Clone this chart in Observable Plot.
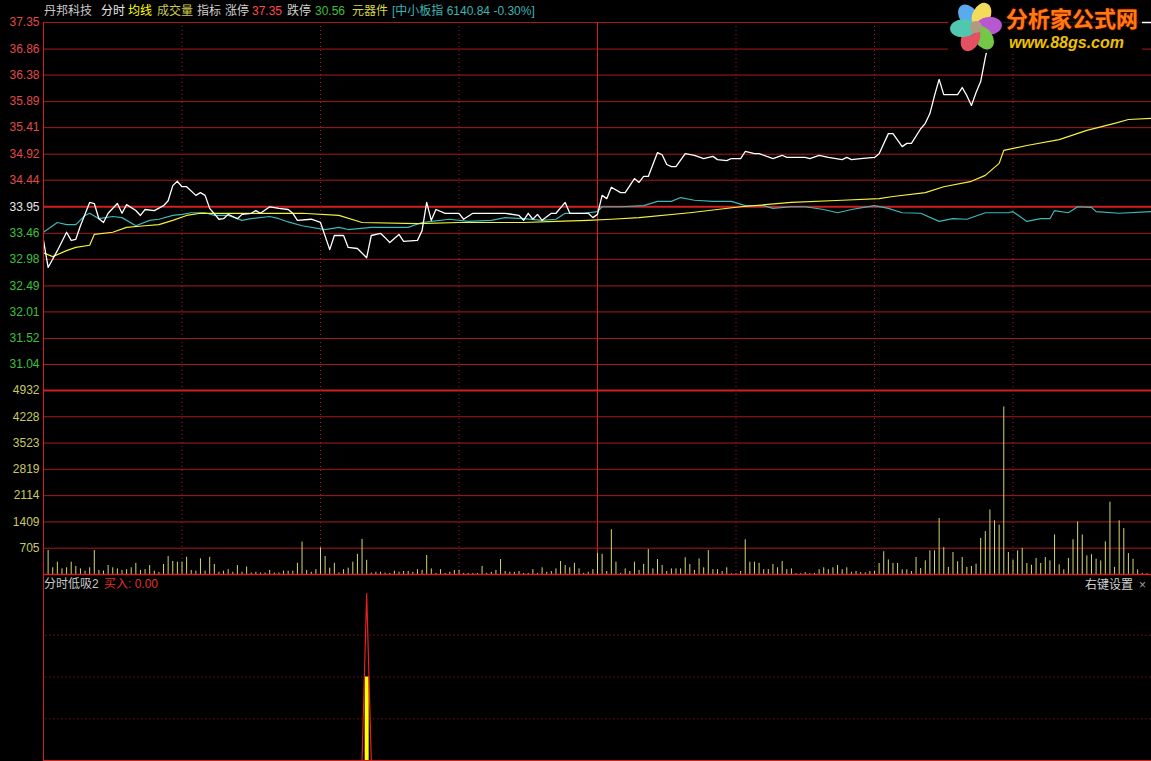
<!DOCTYPE html>
<html><head><meta charset="utf-8">
<script src="https://cdn.jsdelivr.net/npm/d3@7"></script>
<script src="https://cdn.jsdelivr.net/npm/@observablehq/plot@0.6"></script>
<style>
html,body{margin:0;padding:0;background:#000;}
#wrap{position:relative;width:1151px;height:761px;overflow:hidden;background:#000;font-family:"Liberation Sans","Noto Sans CJK SC",sans-serif;}
.t{position:absolute;font-size:12px;white-space:nowrap;line-height:14px;}
</style></head><body><div id="wrap"></div>
<script>
// ---------- data ----------
const stockName = "丹邦科技";
const sector = "元器件";
const indexInfo = "[中小板指 6140.84 -0.30%]";
const limitUp = 37.35, limitDown = 30.56, preClose = 33.95;
const priceTicks = [37.35,36.86,36.38,35.89,35.41,34.92,34.44,33.95,33.46,32.98,32.49,32.01,31.52,31.04];
const volTicks = [4932,4228,3523,2819,2114,1409,705];
const halfHourMarks = [30,60,90,150,180,210];   // trading-minute index
const lunchMark = 120;
const totalMinutes = 240;

// [trading minute, price]
const lastPrice = [[0,33.33],[1,32.83],[3,33.14],[5,33.48],[6,33.33],[7,33.35],[8,33.60],[10,34.03],[11,34.01],[12,33.73],[13,33.66],[14,33.83],[16,34.01],[17,33.83],[18,33.99],[20,33.88],[21,33.79],[22,33.90],[24,33.88],[26,33.97],[27,34.06],[28,34.34],[29,34.42],[30,34.32],[31,34.32],[33,34.16],[34,34.21],[35,34.16],[36,33.92],[38,33.72],[39,33.73],[40,33.81],[41,33.77],[42,33.73],[43,33.81],[45,33.83],[46,33.88],[47,33.83],[49,33.95],[51,33.92],[53,33.90],[54,33.83],[55,33.70],[58,33.72],[60,33.66],[62,33.16],[63,33.42],[65,33.42],[66,33.20],[68,33.18],[70,33.01],[71,33.42],[73,33.46],[74,33.38],[75,33.29],[77,33.44],[78,33.31],[81,33.33],[82,33.51],[83,34.03],[84,33.70],[85,33.90],[87,33.83],[90,33.83],[91,33.72],[93,33.83],[100,33.83],[103,33.79],[104,33.70],[105,33.83],[106,33.72],[107,33.81],[108,33.70],[110,33.83],[111,33.83],[113,34.03],[114,33.83],[118,33.83],[119,33.75],[120,33.81],[121,34.16],[122,34.10],[123,34.31],[125,34.21],[126,34.21],[128,34.47],[129,34.40],[130,34.51],[131,34.51],[133,34.95],[134,34.91],[135,34.73],[136,34.69],[137,34.69],[139,34.93],[141,34.90],[143,34.84],[145,34.88],[146,34.82],[148,34.80],[149,34.84],[151,34.84],[152,34.97],[154,34.93],[155,34.93],[158,34.84],[160,34.90],[161,34.86],[165,34.86],[166,34.84],[168,34.90],[170,34.86],[173,34.82],[174,34.86],[175,34.82],[177,34.84],[180,34.86],[181,34.93],[183,35.30],[184,35.30],[186,35.06],[187,35.12],[188,35.12],[190,35.39],[191,35.49],[192,35.67],[193,36.00],[194,36.30],[195,36.02],[198,36.02],[199,36.15],[200,36.00],[201,35.82],[202,36.06],[203,36.26],[204,36.70],[205,37.07],[206,37.35],[240,37.35]];

const avgPrice = [[0,33.10],[2,33.03],[5,33.14],[7,33.20],[10,33.24],[11,33.44],[15,33.48],[18,33.57],[22,33.60],[25,33.62],[28,33.70],[31,33.79],[34,33.83],[38,33.83],[56,33.83],[64,33.79],[69,33.66],[81,33.64],[90,33.66],[104,33.66],[111,33.68],[118,33.70],[123,33.72],[129,33.75],[140,33.84],[151,33.95],[162,34.03],[173,34.07],[181,34.10],[184,34.14],[191,34.21],[195,34.32],[201,34.42],[204,34.53],[207,34.75],[208,34.99],[213,35.08],[220,35.19],[226,35.36],[232,35.49],[235,35.56],[240,35.58]];

const indexLine = [[0,33.48],[3,33.66],[5,33.62],[7,33.62],[9,33.79],[10,33.83],[12,33.73],[15,33.77],[17,33.75],[20,33.60],[23,33.70],[25,33.72],[28,33.79],[30,33.81],[32,33.84],[35,33.84],[37,33.79],[40,33.79],[43,33.70],[45,33.73],[49,33.77],[51,33.73],[53,33.67],[56,33.60],[61,33.53],[64,33.57],[66,33.53],[71,33.57],[75,33.57],[79,33.57],[82,33.66],[84,33.68],[88,33.72],[92,33.68],[97,33.70],[100,33.75],[104,33.73],[108,33.70],[111,33.72],[113,33.83],[117,33.83],[120,33.86],[121,33.95],[125,33.95],[130,33.97],[133,34.05],[136,34.05],[138,34.12],[141,34.07],[145,34.05],[149,34.05],[152,33.97],[156,33.97],[158,33.92],[162,33.95],[165,33.95],[169,33.90],[172,33.84],[175,33.90],[180,33.97],[183,33.92],[186,33.84],[190,33.83],[194,33.68],[197,33.73],[200,33.72],[204,33.84],[209,33.84],[210,33.86],[213,33.68],[216,33.73],[218,33.73],[219,33.88],[222,33.84],[224,33.95],[227,33.94],[228,33.86],[233,33.83],[240,33.86]];

// per-minute volume, minutes 1..240
const volume = [
643,180,330,150,180,330,215,150,90,180,
643,110,90,240,180,150,110,130,180,300,
110,130,240,90,50,270,480,350,330,330,
460,110,90,420,90,460,270,60,90,130,
60,240,60,200,40,60,40,40,110,40,
40,90,90,90,300,870,110,60,130,710,
480,170,300,40,130,170,330,540,940,380,
40,60,60,40,30,90,60,
80,80,60,130,110,510,150,30,130,30,
60,110,110,30,30,30,30,215,30,60,
110,400,80,60,60,80,30,30,130,30,
180,60,80,150,350,240,180,300,150,30,
60,130,570,540,80,1200,330,30,150,80,
330,110,270,670,150,400,240,80,150,150,
150,450,270,110,420,180,640,130,130,80,
180,20,20,80,930,330,330,300,130,130,
270,180,350,130,150,20,20,50,20,30,
130,180,130,180,240,130,180,60,80,50,
45,80,80,295,610,390,295,295,125,125,
80,455,160,365,635,635,1500,720,190,590,
340,455,190,215,277,965,1150,1730,1440,1320,
4490,590,385,635,700,295,250,430,295,455,
365,1060,260,125,430,930,1410,1060,500,530,
410,365,875,1940,190,1440,1230,560,410,125,
30,20,10];

// 分时低吸2 indicator
const lowBuyLine = [[69,0],[70,4],[71,0]];
const lowBuyBar = [[70,2]];
const lowBuyLevels = [1,2,3];

// ---------- drawing ----------
const wrap = document.getElementById("wrap");
const gridC = "#a81a1a", strongC = "#d02020";
const asObj = arr => arr.map(([t, v]) => ({t, v}));
const common = {
  width: 1151, marginLeft: 43, marginRight: 0,
  x: {domain: [0, totalMinutes], axis: null},
  style: {background: "transparent", fontFamily: "Liberation Sans, Arial, sans-serif", fontSize: "12px", overflow: "visible"}
};
const labelOpts = {frameAnchor: "left", textAnchor: "end", dx: -4, fontSize: 12};
function place(svg, top) {
  svg.style.position = "absolute";
  svg.style.left = "0px";
  svg.style.top = top + "px";
  wrap.appendChild(svg);
}

const p1 = Plot.plot({
  ...common, height: 392, marginTop: 22, marginBottom: 2,
  y: {domain: [limitDown, limitUp], axis: null},
  marks: [
    Plot.ruleY(priceTicks.filter(d => d !== preClose), {stroke: gridC}),
    Plot.ruleY([preClose], {stroke: strongC, strokeWidth: 2}),
    Plot.ruleX(halfHourMarks, {stroke: gridC, strokeDasharray: "1,3"}),
    Plot.ruleX([lunchMark], {stroke: strongC}),
    Plot.line(asObj(indexLine), {x: "t", y: "v", stroke: "#3cb8b8", strokeWidth: 1.2}),
    Plot.line(asObj(avgPrice), {x: "t", y: "v", stroke: "#f2f23c", strokeWidth: 1.2}),
    Plot.line(asObj(lastPrice), {x: "t", y: "v", stroke: "#ffffff", strokeWidth: 1.3}),
    Plot.text(priceTicks.filter(d => d > preClose), {y: d => d, text: d => d.toFixed(2), fill: "#e04a4a", ...labelOpts}),
    Plot.text([preClose], {y: d => d, text: d => d.toFixed(2), fill: "#e6e6e6", ...labelOpts}),
    Plot.text(priceTicks.filter(d => d < preClose), {y: d => d, text: d => d.toFixed(2), fill: "#3cc03c", ...labelOpts})
  ]
});
place(p1, 0);

const p2 = Plot.plot({
  ...common, height: 188, marginTop: 2, marginBottom: 2,
  y: {domain: [0, volTicks[0]], axis: null},
  marks: [
    Plot.ruleY(volTicks.slice(1), {stroke: gridC}),
    Plot.ruleY([volTicks[0]], {stroke: strongC, strokeWidth: 2}),
    Plot.ruleX(halfHourMarks, {stroke: gridC, strokeDasharray: "1,3"}),
    Plot.ruleX([lunchMark], {stroke: strongC}),
    Plot.ruleX(volume.map((v, i) => ({t: i + 1, v})), {x: "t", y1: 0, y2: "v", stroke: "#d6d66c", strokeWidth: 1}),
    Plot.ruleY([0], {stroke: strongC, strokeWidth: 1.5}),
    Plot.text(volTicks, {y: d => d, text: d => String(d), fill: "#c8c864", ...labelOpts})
  ]
});
place(p2, 388);

const p3 = Plot.plot({
  ...common, height: 187, marginTop: 19, marginBottom: 1,
  y: {domain: [0, 4], axis: null},
  marks: [
    Plot.ruleY(lowBuyLevels, {stroke: gridC, strokeDasharray: "1,3", x1: 0.5, x2: totalMinutes}),
    Plot.ruleY([0], {stroke: strongC}),
    Plot.ruleX(asObj(lowBuyBar), {x: "t", y1: 0, y2: "v", stroke: "#ffff00", strokeWidth: 4}),
    Plot.line(asObj(lowBuyLine), {x: "t", y: "v", stroke: "#e82020", strokeWidth: 1.2})
  ]
});
place(p3, 574);

// left border
const lb = document.createElement("div");
lb.style.cssText = `position:absolute;left:43px;top:22px;width:1px;height:739px;background:${strongC}`;
wrap.appendChild(lb);

// texts
function addText(left, top, color, txt) {
  const s = document.createElement("div");
  s.className = "t";
  s.style.left = left + "px"; s.style.top = top + "px"; s.style.color = color;
  s.textContent = txt;
  wrap.appendChild(s);
}
const headerItems = [
  [44, "#c8c8c8", stockName], [101, "#e6e6e6", "分时"], [128, "#ffff00", "均线"],
  [157, "#c8c850", "成交量"], [197, "#d0d0d0", "指标"], [225, "#d0d0d0", "涨停"],
  [252, "#ff4848", limitUp.toFixed(2)], [287, "#d0d0d0", "跌停"], [315, "#3cc03c", limitDown.toFixed(2)],
  [352, "#d8d840", sector], [392, "#3cb4b4", indexInfo]
];
headerItems.forEach(([l, c, t]) => addText(l, 4, c, t));
addText(44, 577, "#c8c8c8", "分时低吸2");
addText(104, 577, "#e03030", "买入: 0.00");
addText(1085, 578, "#d0d0d0", "右键设置");
addText(1139, 578, "#a0a0a0", "×");

// watermark logo
const logo = document.createElement("div");
logo.style.cssText = "position:absolute;left:948px;top:0;width:194px;height:53px;background:rgba(0,0,0,0.9);";
logo.innerHTML = `
<svg width="60" height="54" style="position:absolute;left:0;top:0">
  <g transform="translate(28,27)">
    <ellipse rx="9" ry="13" fill="#5aaaf0" transform="rotate(-35) translate(0,-13)"/>
    <ellipse rx="9" ry="13" fill="#f4dc5a" transform="rotate(25) translate(0,-13)"/>
    <ellipse rx="9" ry="13" fill="#b858d0" transform="rotate(85) translate(0,-13)"/>
    <ellipse rx="9" ry="13" fill="#74c848" transform="rotate(145) translate(0,-13)"/>
    <ellipse rx="9" ry="13" fill="#e45262" transform="rotate(205) translate(0,-13)"/>
    <ellipse rx="9" ry="13" fill="#50c8b0" transform="rotate(265) translate(0,-13)"/>
    <circle r="6" fill="#b09a80"/>
  </g>
</svg>
<div style="position:absolute;left:58px;top:4px;font:bold 22px 'Noto Sans CJK SC';line-height:26px;color:#ff7a10;text-shadow:0 0 2px #c02000;white-space:nowrap">分析家公式网</div>
<div style="position:absolute;left:61px;top:34px;font:italic bold 16px 'Liberation Sans';line-height:18px;color:#eec000;white-space:nowrap">www.88gs.com</div>`;
wrap.appendChild(logo);
</script>
</body></html>
